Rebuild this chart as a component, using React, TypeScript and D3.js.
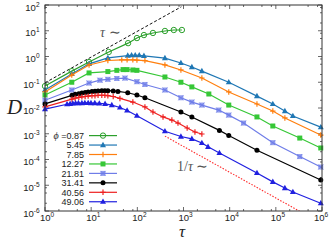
import React from 'react';
import * as d3 from 'd3';

// series values (tau, D)
const tau087 = [1, 3.8, 9, 24, 63, 98, 139, 218, 396, 617, 923];
const d087 = [0.071, 0.27, 0.61, 1.5, 3.3, 5.2, 6.8, 8.2, 9.8, 10.7, 10.7];

const tau545 = [1, 3.8, 9, 23, 62, 75, 90, 110, 139, 396, 879, 1517, 2500, 9560, 39000, 86000, 157000, 234000, 940000];
const d545 = [0.05, 0.21, 0.52, 0.88, 1.08, 1.12, 1.12, 1.12, 1.06, 0.87, 0.56, 0.39, 0.27, 0.10, 0.029, 0.0143, 0.0076, 0.0049, 0.0018];

const tau785 = [1, 3.8, 9, 23, 46, 60, 80, 98, 146, 396, 879, 2500, 9560, 39000, 86000, 157000, 940000];
const d785 = [0.042, 0.19, 0.47, 0.70, 0.74, 0.74, 0.74, 0.72, 0.69, 0.47, 0.30, 0.146, 0.042, 0.0143, 0.0076, 0.0041, 0.00089];

const tau1227 = [1, 3.8, 9, 23, 36, 49, 60, 80, 98, 396, 879, 1517, 3540, 9560, 39000, 86000, 330000, 940000];
const d1227 = [0.032, 0.10, 0.23, 0.26, 0.29, 0.31, 0.31, 0.30, 0.29, 0.16, 0.10, 0.066, 0.035, 0.013, 0.0045, 0.0020, 0.00068, 0.00028];

const tau2181 = [1, 3.8, 9, 15.5, 23, 36, 54, 98, 146, 396, 879, 1517, 2500, 5800, 9560, 20000, 86000, 330000, 940000];
const d2181 = [0.020, 0.050, 0.093, 0.12, 0.13, 0.14, 0.145, 0.105, 0.082, 0.050, 0.025, 0.017, 0.013, 0.0083, 0.0053, 0.0026, 0.00045, 0.00013, 0.000051];

const tau3141 = [1, 3.84, 4.5, 5.4, 6.3, 7.4, 8.6, 10.4, 12.1, 14.1, 17, 19.8, 23, 30, 38, 62, 98, 146, 879, 1517, 6000, 9560, 39000, 940000];
const d3141 = [0.0144, 0.031, 0.034, 0.036, 0.038, 0.040, 0.042, 0.044, 0.045, 0.046, 0.047, 0.047, 0.047, 0.046, 0.044, 0.039, 0.032, 0.025, 0.0070, 0.0045, 0.00135, 0.00085, 0.00023, 0.000016];

const tau4056 = [1, 3.84, 4.5, 5.4, 6.3, 7.4, 8.6, 10.4, 12.1, 14.1, 17, 19.8, 23, 30, 42, 80, 146, 218, 360, 560, 760, 1200, 1770, 2500];
const d4056 = [0.011, 0.022, 0.024, 0.026, 0.027, 0.028, 0.029, 0.030, 0.030, 0.031, 0.031, 0.031, 0.030, 0.028, 0.0235, 0.017, 0.011, 0.0070, 0.0045, 0.0034, 0.0026, 0.00167, 0.00117, 0.00098];

const tau4906 = [1, 3, 3.5, 4, 4.6, 5.3, 6.3, 7.3, 8.6, 9.9, 12, 15, 20, 28, 42, 60, 98, 396, 879, 1517, 2500, 3400, 6000, 39000, 86000, 157000, 234000, 940000];
const d4906 = [0.0091, 0.0140, 0.0145, 0.0150, 0.0153, 0.0155, 0.0156, 0.0157, 0.0157, 0.0156, 0.0155, 0.0150, 0.0145, 0.013, 0.0105, 0.0080, 0.0050, 0.00125, 0.00078, 0.00063, 0.00044, 0.00031, 0.00018, 0.000030, 0.0000135, 0.0000078, 0.0000055, 0.000002];

const phiLabels = ['0.87', '5.45', '7.85', '12.27', '21.81', '31.41', '40.56', '49.06'];
const colors = ['#2ca02c', '#1f77b4', '#ff7f0e', '#36c736', '#6f7de8', '#000000', '#ee2020', '#2020e0'];
const shapes = ['ocircle', 'triangle', 'plus', 'square', 'xsquare', 'circle', 'plus', 'triangle'];

// guide lines
const slopeTau = [1, 900];
const slopeD = slopeTau.map(t => 0.095 * t);
const invTau = [396, 1e6];
const invD = invTau.map(t => 0.32 / t);

const xTicks = [1, 10, 100, 1000, 10000, 100000, 1000000];
const yTicks = [1e2, 1e1, 1, 1e-1, 1e-2, 1e-3, 1e-4, 1e-5, 1e-6];

const W = 329, H = 241;
const L = 45, R = 322, T = 5, B = 211;

function Marker({ shape, x, y, color }: { shape: string; x: number; y: number; color: string }) {
  const s = 2.5;
  if (shape === 'ocircle') return <circle cx={x} cy={y} r={2.7} fill="none" stroke={color} strokeWidth={1} />;
  if (shape === 'circle') return <circle cx={x} cy={y} r={2.5} fill={color} />;
  if (shape === 'square') return <rect x={x - s} y={y - s} width={2 * s} height={2 * s} fill={color} />;
  if (shape === 'xsquare')
    return (
      <g>
        <rect x={x - s} y={y - s} width={2 * s} height={2 * s} fill={color} opacity={0.75} />
        <path d={`M${x - s},${y - s}L${x + s},${y + s}M${x - s},${y + s}L${x + s},${y - s}`} stroke={color} strokeWidth={0.8} />
      </g>
    );
  if (shape === 'triangle')
    return <path d={`M${x},${y - 3.3}L${x + 3},${y + 2.1}L${x - 3},${y + 2.1}Z`} fill={color} />;
  return <path d={`M${x - 2.7},${y}H${x + 2.7}M${x},${y - 2.7}V${y + 2.7}`} stroke={color} strokeWidth={1.2} />;
}

function supLabel(v: number) {
  return Math.round(Math.log10(v)).toString();
}

export default function App() {
  const x = d3.scaleLog().domain([1, 1e6]).range([L, R]);
  const y = d3.scaleLog().domain([1e-6, 1e2]).range([B, T]);

  const taus = [tau087, tau545, tau785, tau1227, tau2181, tau3141, tau4056, tau4906];
  const ds = [d087, d545, d785, d1227, d2181, d3141, d4056, d4906];

  const line = d3.line<[number, number]>()
    .x(d => x(d[0]))
    .y(d => y(d[1]));

  const minorX: number[] = [];
  xTicks.slice(0, -1).forEach(t => [2, 5, 8].forEach(m => minorX.push(t * m)));
  const minorY: number[] = [];
  yTicks.slice(1).forEach(t => [2, 5, 8].forEach(m => minorY.push(t * m)));

  const legendTop = 135.6;
  const legendStep = 9.45;

  return (
    <svg width={W} height={H} style={{ position: 'absolute', left: 0, top: 0, background: '#fff' }}
      fontFamily="'Liberation Sans', Arial, sans-serif">
      <defs>
        <clipPath id="plot">
          <rect x={L} y={T} width={R - L} height={B - T} />
        </clipPath>
      </defs>

      {/* ticks */}
      <g stroke="#444" strokeWidth={0.8}>
        {xTicks.map(t => (
          <g key={'xt' + t}>
            <line x1={x(t)} x2={x(t)} y1={B} y2={B - 4} />
            <line x1={x(t)} x2={x(t)} y1={T} y2={T + 4} />
          </g>
        ))}
        {minorX.map(t => (
          <g key={'xm' + t}>
            <line x1={x(t)} x2={x(t)} y1={B} y2={B - 2} />
            <line x1={x(t)} x2={x(t)} y1={T} y2={T + 2} />
          </g>
        ))}
        {yTicks.map(t => (
          <g key={'yt' + t}>
            <line x1={L} x2={L + 4} y1={y(t)} y2={y(t)} />
            <line x1={R} x2={R - 4} y1={y(t)} y2={y(t)} />
          </g>
        ))}
        {minorY.map(t => (
          <g key={'ym' + t}>
            <line x1={L} x2={L + 2} y1={y(t)} y2={y(t)} />
            <line x1={R} x2={R - 2} y1={y(t)} y2={y(t)} />
          </g>
        ))}
      </g>

      {/* tick labels */}
      <g fontSize={9.5} fill="#222">
        {xTicks.map(t => {
          const last = t === 1e6;
          return (
            <text key={'xl' + t} x={last ? W - 0.8 : x(t) - 5} y={220.5} textAnchor={last ? 'end' : 'start'}>
              10<tspan fontSize={6.5} dy={-4}>{supLabel(t)}</tspan>
            </text>
          );
        })}
        {yTicks.map(t => (
          <text key={'yl' + t} x={39.5} y={y(t) + 5.5} textAnchor="end">
            10<tspan fontSize={6.5} dy={-4}>{supLabel(t)}</tspan>
          </text>
        ))}
      </g>

      {/* axis titles */}
      <text x={7} y={114} fontSize={21} fontStyle="italic" fontFamily="'Liberation Serif', serif" fill="#222">D</text>
      <text x={179} y={237.3} fontSize={17} fontStyle="italic" fontFamily="'Liberation Serif', serif" fill="#222">τ</text>

      {/* guide lines */}
      <g clipPath="url(#plot)" fill="none">
        <path d={line(slopeTau.map((t, i) => [t, slopeD[i]]) as [number, number][]) || ''} stroke="#111" strokeWidth={1} strokeDasharray="3,2" />
        <path d={line(invTau.map((t, i) => [t, invD[i]]) as [number, number][]) || ''} stroke="#ff2a2a" strokeWidth={1.1} strokeDasharray="1.5,1.5" />
      </g>
      <text x={100} y={37} fontSize={14} fill="#555" fontFamily="'Liberation Serif', serif">
        <tspan fontStyle="italic">τ</tspan> ∼
      </text>
      <text x={177} y={171} fontSize={14} fill="#555" fontFamily="'Liberation Serif', serif">
        1/<tspan fontStyle="italic">τ</tspan> ∼
      </text>

      {/* series */}
      {taus.map((ts, k) => {
        const pts = ts.map((t, i) => [t, ds[k][i]] as [number, number]);
        return (
          <g key={'s' + k}>
            <path d={line(pts) || ''} fill="none" stroke={colors[k]} strokeWidth={1.2} />
            {pts.map((p, i) => (
              <Marker key={i} shape={shapes[k]} x={x(p[0])} y={y(p[1])} color={colors[k]} />
            ))}
          </g>
        );
      })}

      {/* legend */}
      <g fontSize={9} fill="#222">
        {phiLabels.map((lab, k) => {
          const ly = legendTop + k * legendStep;
          return (
            <g key={'lg' + k}>
              <text x={84} y={ly + 3.2} textAnchor="end">
                {k === 0 ? (
                  <>
                    <tspan fontStyle="italic" fontFamily="'Liberation Serif', serif" fontSize={10}>ϕ</tspan> =0.87
                  </>
                ) : lab}
              </text>
              <line x1={89} x2={117} y1={ly} y2={ly} stroke={colors[k]} strokeWidth={1.2} />
              <Marker shape={shapes[k]} x={103} y={ly} color={colors[k]} />
            </g>
          );
        })}
      </g>

      {/* frame */}
      <rect x={L} y={T} width={R - L} height={B - T} fill="none" stroke="#333" strokeWidth={1} />
    </svg>
  );
}
